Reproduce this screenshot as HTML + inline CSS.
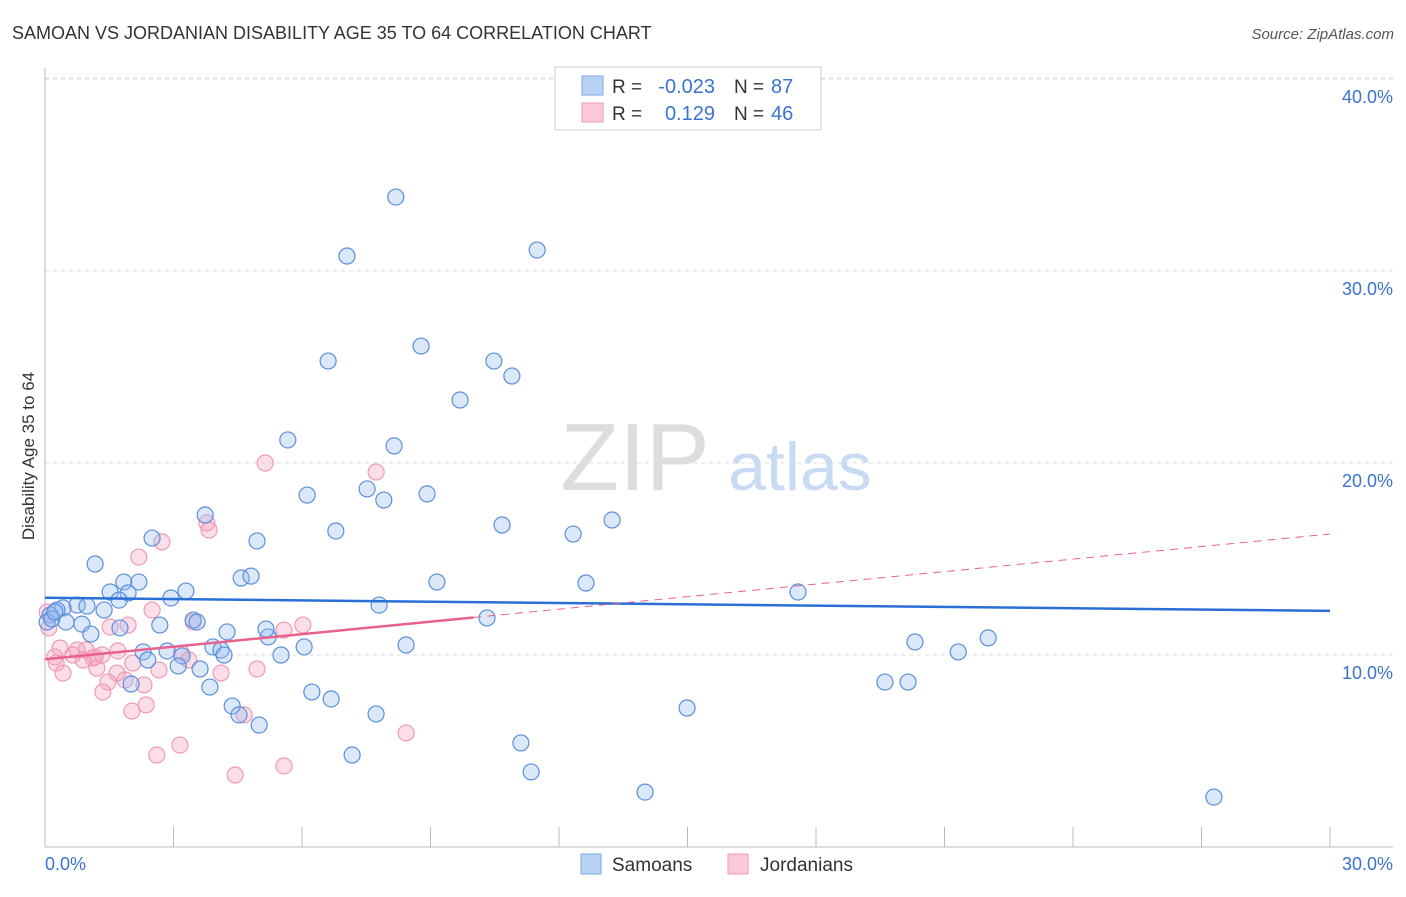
<!DOCTYPE html>
<html><head><meta charset="utf-8"><style>
body{margin:0;background:#fff;font-family:"Liberation Sans",sans-serif;}
svg text{font-family:"Liberation Sans",sans-serif;}
</style></head><body>
<svg id="chart" width="1406" height="892" xmlns="http://www.w3.org/2000/svg">
<text x="12" y="39" font-size="18" fill="#333">SAMOAN VS JORDANIAN DISABILITY AGE 35 TO 64 CORRELATION CHART</text>
<text x="1394" y="39" font-size="15" fill="#555" text-anchor="end" font-style="italic">Source: ZipAtlas.com</text>
<g id="grid"></g>
<g>
<text x="635" y="490" font-size="96" fill="#ddd" font-family="Liberation Serif" text-anchor="middle">ZIP</text>
<text x="800" y="490" font-size="68" fill="#c9daf3" text-anchor="middle">atlas</text>
</g>
<line x1="45" y1="68" x2="45" y2="847" stroke="#bbb"/>
<line x1="45" y1="847" x2="1393" y2="847" stroke="#bbb"/>
<g id="ticks"></g>
<text transform="translate(34,456) rotate(-90)" font-size="17" fill="#333" text-anchor="middle">Disability Age 35 to 64</text>
<text x="45" y="870" font-size="18" fill="#3b73d1">0.0%</text>
<text x="1393" y="870" font-size="18" fill="#3b73d1" text-anchor="end">30.0%</text>
<g id="points"></g>
<g id="trends"></g>
<g>
<rect x="555" y="67" width="266" height="63" fill="#fff" stroke="#ccc"/>
<rect x="582" y="76" width="21" height="19" fill="#b9d3f5" stroke="#7aa6e6"/>
<rect x="582" y="103" width="21" height="19" fill="#fcc9d8" stroke="#ef9ab5"/>
<text x="612" y="93" font-size="19" fill="#333">R =</text>
<text x="715" y="93" font-size="20" fill="#3b73d1" text-anchor="end">-0.023</text>
<text x="734" y="93" font-size="19" fill="#333">N =</text>
<text x="771" y="93" font-size="20" fill="#3b73d1">87</text>
<text x="612" y="120" font-size="19" fill="#333">R =</text>
<text x="715" y="120" font-size="20" fill="#3b73d1" text-anchor="end">0.129</text>
<text x="734" y="120" font-size="19" fill="#333">N =</text>
<text x="771" y="120" font-size="20" fill="#3b73d1">46</text>
</g>
<g>
<rect x="581" y="854" width="20" height="20" fill="#b9d3f5" stroke="#7aa6e6"/>
<text x="612" y="871" font-size="19" fill="#333">Samoans</text>
<rect x="728" y="854" width="20" height="20" fill="#fcc9d8" stroke="#ef9ab5"/>
<text x="760" y="871" font-size="19" fill="#333">Jordanians</text>
</g>
</svg>
<script>
const yTicks=[10,20,30,40];
const yTickLabels=["10.0%","20.0%","30.0%","40.0%"];
const xTicks=[3,6,9,12,15,18,21,24,27,30];
const samoanPx=[[396,197],[537,250],[347,256],[421,346],[328,361],[494,361],[512,376],[460,400],[288,440],[394,446],[367,489],[307,495],[427,494],[384,500],[205,515],[612,520],[502,525],[336,531],[573,534],[152,538],[257,541],[95,564],[241,578],[251,576],[124,582],[139,582],[437,582],[586,583],[186,591],[110,592],[128,593],[171,598],[798,592],[119,600],[77,605],[63,608],[87,606],[104,610],[379,605],[57,610],[50,615],[487,618],[193,620],[66,622],[82,624],[160,625],[268,637],[266,629],[227,632],[91,634],[915,642],[988,638],[406,645],[213,647],[304,647],[221,650],[143,652],[167,651],[182,656],[958,652],[224,655],[281,655],[148,660],[178,666],[200,669],[885,682],[908,682],[131,684],[210,687],[312,692],[331,699],[232,706],[239,715],[376,714],[687,708],[259,725],[521,743],[352,755],[531,772],[645,792],[1214,797],[47,622],[52,619],[197,622],[120,628],[55,612]];
const jordanPx=[[265,463],[376,472],[207,523],[209,530],[162,542],[139,557],[152,610],[128,625],[193,622],[303,625],[284,630],[110,627],[49,628],[47,612],[60,648],[77,650],[73,655],[86,650],[93,658],[102,655],[118,651],[181,653],[189,660],[56,663],[55,657],[133,663],[97,668],[159,670],[117,673],[257,669],[221,673],[63,673],[108,682],[125,680],[144,685],[103,692],[146,705],[132,711],[244,715],[406,733],[180,745],[157,755],[284,766],[235,775],[95,657],[83,660]];
// convert reading to data values (percent)
const samoanX=samoanPx.map(p=>+((p[0]-45)/1285*30).toFixed(2));
const samoanY=samoanPx.map(p=>+((847-p[1])/19.2).toFixed(2));
const jordanX=jordanPx.map(p=>+((p[0]-45)/1285*30).toFixed(2));
const jordanY=jordanPx.map(p=>+((847-p[1])/19.2).toFixed(2));
const samoanTrend=[12.98,12.3];
const jordanTrend=[9.78,16.3];
const jordanSolidEnd=10;
const NS="http://www.w3.org/2000/svg";
const sx=v=>45+v/30*1285, sy=v=>847-v*19.2;
function mk(t,a,parent){const e=document.createElementNS(NS,t);for(const k in a)e.setAttribute(k,a[k]);document.getElementById(parent).appendChild(e);return e;}
yTicks.forEach((v,i)=>{
 const l=mk('line',{x1:45,x2:1393,y1:sy(v),y2:sy(v),stroke:'#ddd','stroke-dasharray':'4,4'},'grid');
 
 
 const t=mk('text',{x:1393,y:sy(v)+24,'font-size':18,fill:'#3b73d1','text-anchor':'end'},'grid');
 
 
 t.textContent=yTickLabels[i];
});
mk('line',{x1:45,x2:1393,y1:sy(40)-1,y2:sy(40)-1,stroke:'#ddd','stroke-dasharray':'4,4'},'grid');
xTicks.forEach(v=>{
 const l=mk('line',{x1:sx(v),x2:sx(v),y1:827,y2:847,stroke:'#bbb'},'ticks');
 
 
});
jordanX.forEach((x,i)=>{
 const c=mk('circle',{cx:sx(x),cy:sy(jordanY[i]),r:8,fill:'rgba(246,160,188,0.35)',stroke:'#ef9ab5','stroke-width':1.2},'points');
 
 
});
samoanX.forEach((x,i)=>{
 const c=mk('circle',{cx:sx(x),cy:sy(samoanY[i]),r:8,fill:'rgba(150,190,240,0.35)',stroke:'#5b8fdc','stroke-width':1.2},'points');
 
 
});
const jAt=x=>jordanTrend[0]+(jordanTrend[1]-jordanTrend[0])*x/30;
let l1=mk('line',{x1:sx(0),y1:sy(samoanTrend[0]),x2:sx(30),y2:sy(samoanTrend[1]),stroke:'#2a6fd6','stroke-width':2.5},'trends');


let l2=mk('line',{x1:sx(0),y1:sy(jAt(0)),x2:sx(jordanSolidEnd),y2:sy(jAt(jordanSolidEnd)),stroke:'#e8628d','stroke-width':2.5},'trends');


let l3=mk('line',{x1:sx(jordanSolidEnd),y1:sy(jAt(jordanSolidEnd)),x2:sx(30),y2:sy(jAt(30)),stroke:'#e8628d','stroke-width':1,'stroke-dasharray':'8,6'},'trends');


</script>
</body></html>
